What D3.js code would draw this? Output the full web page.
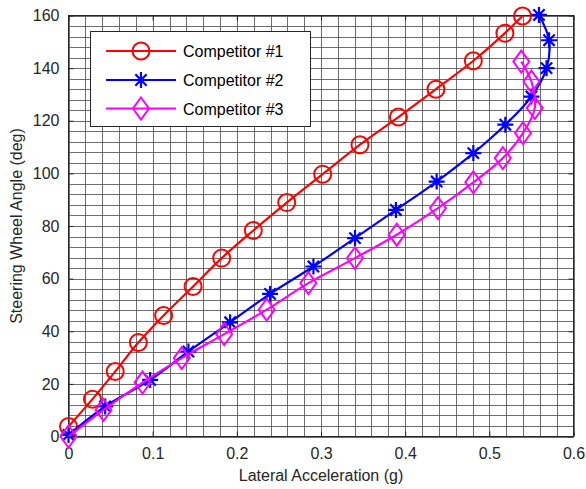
<!DOCTYPE html>
<html>
<head>
<meta charset="utf-8">
<script src="https://cdn.jsdelivr.net/npm/d3@7"></script>
<style>
  body { margin: 0; background: #fff; }
  text { font-family: Arial, "Liberation Sans", sans-serif; }
</style>
</head>
<body>
<svg id="mySvg" width="586" height="489"></svg>
<script>
var svg = d3.select("#mySvg");

// data
const seriesNames = ["Competitor #1", "Competitor #2", "Competitor #3"];
const seriesColors = ["#ff0000", "#0000ff", "#ff00ff"];
const seriesMarkers = ["circle", "star", "diamond"];

const comp1X = [0, 0.0285, 0.0555, 0.083, 0.113, 0.148, 0.182, 0.2196, 0.2593, 0.302, 0.3463, 0.392, 0.4366, 0.481, 0.5185, 0.5394];
const comp1Y = [3.8, 14.2, 24.7, 35.7, 46, 57, 67.8, 78.3, 88.9, 99.7, 110.9, 121.4, 132, 142.8, 153.3, 159.8];

const comp2X = [0, 0.0436, 0.097, 0.1425, 0.192, 0.2395, 0.291, 0.3404, 0.389, 0.4374, 0.481, 0.519, 0.550, 0.568, 0.571, 0.559];
const comp2Y = [0.6, 11.4, 21.5, 32.3, 43.4, 54.2, 64.6, 75.4, 86.1, 96.9, 107.7, 118.5, 129.2, 140, 150.6, 160.2];

const comp3X = [0, 0.0416, 0.088, 0.1346, 0.185, 0.2355, 0.285, 0.3404, 0.39, 0.439, 0.481, 0.516, 0.540, 0.554, 0.550, 0.538];
const comp3Y = [0, 10.1, 20.5, 29.8, 38.9, 48.2, 58.3, 67.8, 76.7, 86.8, 96.6, 105.8, 115.3, 124.8, 134.9, 142.5];

const xTicks = [0, 0.1, 0.2, 0.3, 0.4, 0.5, 0.6];
const yTicks = [0, 20, 40, 60, 80, 100, 120, 140, 160];
const xMinor = d3.range(0, 0.6001, 0.02);
const yMinor = d3.range(0, 160.001, 4);

const xLabel = "Lateral Acceleration (g)";
const yLabel = "Steering Wheel Angle (deg)";

const allSeries = [
    { x: comp1X, y: comp1Y },
    { x: comp2X, y: comp2Y },
    { x: comp3X, y: comp3Y }
];

// plot box
const plotLeft = 68.5, plotRight = 573.5, plotTop = 15.5, plotBottom = 436.5;

var x = d3.scaleLinear().domain([0, 0.6]).range([plotLeft, plotRight]);
var y = d3.scaleLinear().domain([0, 160]).range([plotBottom, plotTop]);

// grid
svg.append("g").selectAll("line").data(xMinor).join("line")
    .attr("x1", d => Math.round(x(d)) + 0.5).attr("x2", d => Math.round(x(d)) + 0.5)
    .attr("y1", plotTop).attr("y2", plotBottom)
    .attr("stroke", "#555").attr("stroke-width", 1).attr("stroke-opacity", 0.85);
svg.append("g").selectAll("line").data(yMinor).join("line")
    .attr("y1", d => Math.round(y(d)) + 0.5).attr("y2", d => Math.round(y(d)) + 0.5)
    .attr("x1", plotLeft).attr("x2", plotRight)
    .attr("stroke", "#555").attr("stroke-width", 1).attr("stroke-opacity", 0.85);

// axes with inward ticks
var xAxis = svg.append("g").attr("transform", `translate(0,${plotBottom})`)
    .call(d3.axisBottom(x).tickValues(xTicks).tickSizeInner(-5).tickSizeOuter(0).tickPadding(11)
        .tickFormat(d => d === 0 ? "0" : d3.format(".1f")(d)));
var xTop = svg.append("g").attr("transform", `translate(0,${plotTop})`)
    .call(d3.axisTop(x).tickValues(xTicks).tickSizeInner(-5).tickSizeOuter(0).tickFormat(""));
var yAxis = svg.append("g").attr("transform", `translate(${plotLeft},0)`)
    .call(d3.axisLeft(y).tickValues(yTicks).tickSizeInner(-5).tickSizeOuter(0).tickPadding(9));
var yRight = svg.append("g").attr("transform", `translate(${plotRight},0)`)
    .call(d3.axisRight(y).tickValues(yTicks).tickSizeInner(-5).tickSizeOuter(0).tickFormat(""));

[xAxis, xTop, yAxis, yRight].forEach(function (g) {
    g.select(".domain").remove();
    g.selectAll("line").attr("stroke", "#262626");
    g.selectAll("text").attr("font-size", 16).attr("fill", "#262626")
        .style("font-family", "Arial, 'Liberation Sans', sans-serif");
});

svg.append("rect")
    .attr("x", plotLeft).attr("y", plotTop)
    .attr("width", plotRight - plotLeft).attr("height", plotBottom - plotTop)
    .attr("fill", "none").attr("stroke", "#262626").attr("stroke-width", 1);

// axis labels
svg.append("text")
    .attr("x", (plotLeft + plotRight) / 2).attr("y", 481)
    .attr("text-anchor", "middle").attr("font-size", 16).attr("fill", "#262626")
    .text(xLabel);
svg.append("text")
    .attr("transform", `translate(22,${(plotTop + plotBottom) / 2}) rotate(-90)`)
    .attr("text-anchor", "middle").attr("font-size", 16).attr("fill", "#262626")
    .text(yLabel);

// markers
function drawMarker(g, type, cx, cy, color) {
    if (type == "circle") {
        g.append("circle").attr("cx", cx).attr("cy", cy).attr("r", 8.5)
            .attr("fill", "none").attr("stroke", color).attr("stroke-width", 2);
    } else if (type == "star") {
        var r = 8;
        var p = "";
        for (var k = 0; k < 4; k++) {
            var a = k * Math.PI / 4;
            p += `M${cx + r * Math.cos(a)},${cy + r * Math.sin(a)}L${cx - r * Math.cos(a)},${cy - r * Math.sin(a)}`;
        }
        g.append("path").attr("d", p).attr("stroke", color).attr("stroke-width", 2.2).attr("fill", "none");
    } else {
        var w = 8, h = 11;
        g.append("path")
            .attr("d", `M${cx},${cy - h}L${cx + w},${cy}L${cx},${cy + h}L${cx - w},${cy}Z`)
            .attr("fill", "none").attr("stroke", color).attr("stroke-width", 2);
    }
}

var line = d3.line().x(d => x(d[0])).y(d => y(d[1])).curve(d3.curveCatmullRom.alpha(0.5));

allSeries.forEach(function (s, i) {
    var pts = s.x.map((v, j) => [v, s.y[j]]);
    var g = svg.append("g");
    g.append("path").datum(pts).attr("d", line)
        .attr("fill", "none").attr("stroke", seriesColors[i]).attr("stroke-width", 2.2);
    pts.forEach(p => drawMarker(g, seriesMarkers[i], x(p[0]), y(p[1]), seriesColors[i]));
});

// legend
var legend = svg.append("g");
legend.append("rect")
    .attr("x", 90.5).attr("y", 31.5).attr("width", 220).attr("height", 95)
    .attr("fill", "#fff").attr("stroke", "#262626").attr("stroke-width", 1);
const legendRows = [51, 80, 108.5];
seriesNames.forEach(function (name, i) {
    var ly = legendRows[i];
    legend.append("line").attr("x1", 106).attr("x2", 176).attr("y1", ly).attr("y2", ly)
        .attr("stroke", seriesColors[i]).attr("stroke-width", 2.2);
    drawMarker(legend, seriesMarkers[i], 141, ly, seriesColors[i]);
    legend.append("text").attr("x", 183).attr("y", ly + 6)
        .attr("font-size", 16).attr("fill", "#000").text(name);
});
</script>
</body>
</html>
